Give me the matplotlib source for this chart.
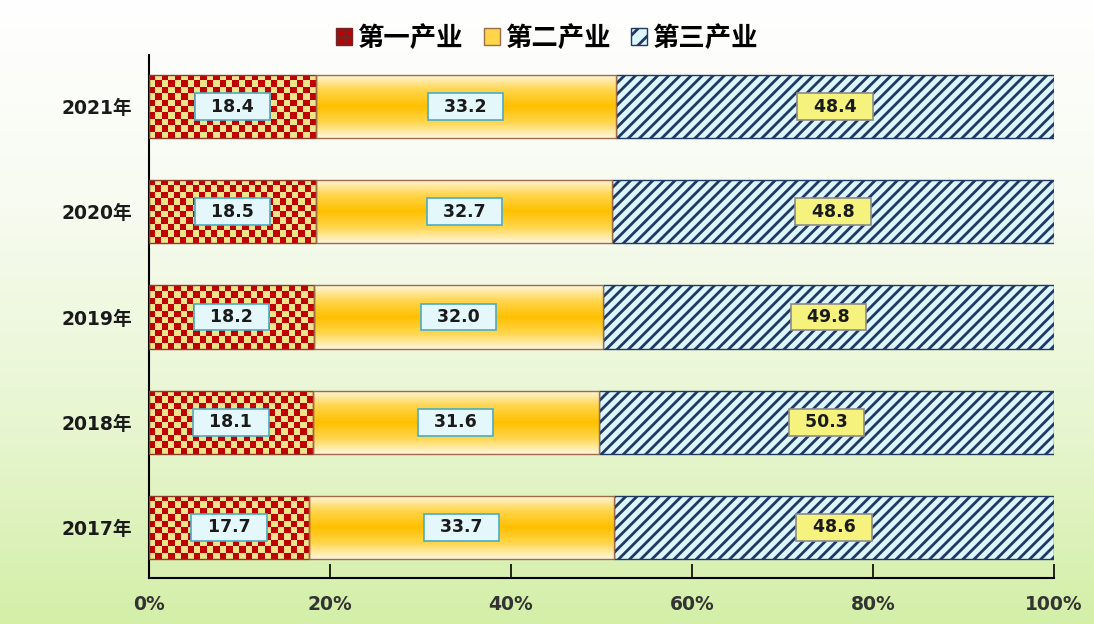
import numpy as np
import matplotlib
matplotlib.use("Agg")
import matplotlib.pyplot as plt
from matplotlib.colors import LinearSegmentedColormap, ListedColormap
from matplotlib.patches import Patch

plt.rcParams['font.family'] = ['DejaVu Sans', 'Noto Sans CJK SC']
plt.rcParams['hatch.linewidth'] = 2.0

# 数据
years = ['2017年', '2018年', '2019年', '2020年', '2021年']
primary = [17.7, 18.1, 18.2, 18.5, 18.4]
secondary = [33.7, 31.6, 32.0, 32.7, 33.2]
tertiary = [48.6, 50.3, 49.8, 48.8, 48.4]
series_names = ['第一产业', '第二产业', '第三产业']
xticks = [0, 20, 40, 60, 80, 100]

fig = plt.figure(figsize=(10.94, 6.24), dpi=100)

# 背景渐变
bg = fig.add_axes([0, 0, 1, 1], zorder=-10)
bg_cmap = LinearSegmentedColormap.from_list('bg', ['#FFFFFF', '#F7FBF0', '#E8F6D2', '#D4EFA8'])
bg.imshow(np.linspace(0, 1, 256).reshape(-1, 1), aspect='auto', cmap=bg_cmap,
          extent=[0, 1, 0, 1], origin='upper')
bg.axis('off')

ax = fig.add_axes([0.1362, 0.0737, 0.8272, 0.8382])
ax.patch.set_alpha(0)

ypos = np.arange(len(years))
h = 0.6

checker_cmap = ListedColormap(['#C00000', '#EEE48A'])
grad_cmap = LinearSegmentedColormap.from_list('g', ['#FFF6DC', '#FFD54A', '#FFC000', '#FFD54A', '#FFF6DC'])

b1 = ax.barh(ypos, primary, height=h, color='none', edgecolor='#8B3A2A', lw=1, zorder=3)
b2 = ax.barh(ypos, secondary, left=primary, height=h, color='none', edgecolor='#9C6B4A', lw=1, zorder=3)
b3 = ax.barh(ypos, tertiary, left=np.array(primary) + np.array(secondary), height=h,
             color='#DDF6FB', edgecolor='#1F3864', hatch='///', lw=1, zorder=2)

px_per_pct = 905 / 100.0
for rect in b1:
    x0, y0, w, hh = rect.get_x(), rect.get_y(), rect.get_width(), rect.get_height()
    nx = max(1, int(round(w * px_per_pct / 6.3)))
    ny = 10
    cells = (np.indices((ny, nx)).sum(axis=0) % 2)
    im = ax.imshow(cells, cmap=checker_cmap, aspect='auto', interpolation='nearest',
                   extent=[x0, x0 + w, y0, y0 + hh], zorder=2)
    im.set_clip_path(rect)

for rect in b2:
    x0, y0, w, hh = rect.get_x(), rect.get_y(), rect.get_width(), rect.get_height()
    im = ax.imshow(np.linspace(0, 1, 100).reshape(-1, 1), cmap=grad_cmap, aspect='auto',
                   extent=[x0, x0 + w, y0, y0 + hh], zorder=2)
    im.set_clip_path(rect)

# 数据标签
def add_labels(bars, vals, fc, ec):
    for rect, v in zip(bars, vals):
        cx = rect.get_x() + rect.get_width() / 2
        cy = rect.get_y() + rect.get_height() / 2
        ax.text(cx, cy, '  %.1f  ' % v, ha='center', va='center', fontsize=12.5,
                fontweight='bold', color='#1A1A1A', zorder=5,
                bbox=dict(boxstyle='square,pad=0.25', fc=fc, ec=ec, lw=1.2))

add_labels(b1, primary, '#E4F8FB', '#4BACC6')
add_labels(b2, secondary, '#E4F8FB', '#4BACC6')
add_labels(b3, tertiary, '#F5F27E', '#8C8C8C')

ax.set_xlim(0, 100)
ax.set_ylim(-0.48, 4.49)
ax.set_yticks(ypos)
ax.set_yticklabels(years, fontsize=13.5, fontweight='bold', color='#1A1A1A')
ax.tick_params(axis='y', length=0, pad=12)
ax.set_xticks(xticks)
ax.set_xticklabels(['%d%%' % t for t in xticks], fontsize=13.5, fontweight='bold', color='#333333')
ax.tick_params(axis='x', direction='in', length=10, width=1.2, color='#000000', pad=12)

for s in ['top', 'right']:
    ax.spines[s].set_visible(False)
ax.spines['left'].set_linewidth(1.5)
ax.spines['bottom'].set_linewidth(1.5)

handles = [
    Patch(facecolor='#C00000', edgecolor='#7A2020', hatch='++'),
    Patch(facecolor='#FFD54A', edgecolor='#9C6B4A'),
    Patch(facecolor='#DDF6FB', edgecolor='#1F3864', hatch='//'),
]
fig.legend(handles, series_names, loc='center', bbox_to_anchor=(0.5, 0.939), ncol=3,
           frameon=False, prop={'family': ['Noto Sans CJK SC'], 'weight': 'bold', 'size': 19},
           handlelength=0.6, handleheight=0.6, handletextpad=0.2, columnspacing=0.8)

fig.savefig('out.png', dpi=100)
